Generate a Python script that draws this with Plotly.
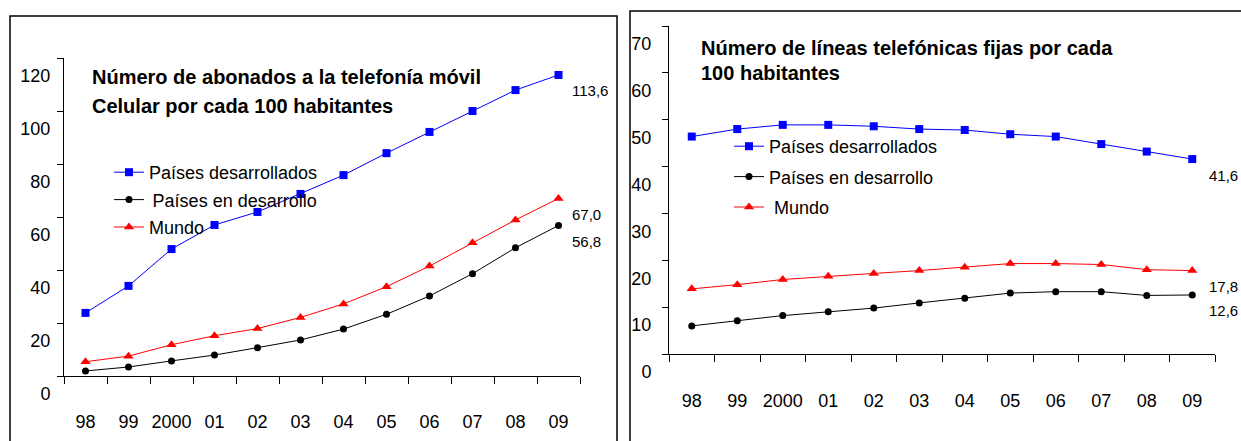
import plotly.graph_objects as go

# ---------------- data ----------------
years = ["98", "99", "2000", "01", "02", "03", "04", "05", "06", "07", "08", "09"]

series_names = ["Países desarrollados", "\u2009Países en desarrollo", "Mundo"]
series_names_right = ["Países desarrollados", "Países en desarrollo", "\u00a0Mundo"]

# Mobile cellular subscriptions per 100 inhabitants
mob_developed = [23.8, 34.0, 47.9, 57.0, 61.9, 68.7, 75.8, 84.1, 92.1, 100.0, 107.9, 113.6]
mob_developing = [1.9, 3.4, 5.7, 7.9, 10.7, 13.6, 17.7, 23.3, 30.2, 38.6, 48.4, 56.8]
mob_world = [5.4, 7.5, 11.8, 15.2, 17.9, 22.1, 27.2, 33.7, 41.5, 50.3, 58.9, 67.0]

# Fixed telephone lines per 100 inhabitants
fix_developed = [46.4, 48.0, 48.9, 48.9, 48.6, 48.0, 47.8, 46.9, 46.4, 44.8, 43.2, 41.6]
fix_developing = [6.0, 7.1, 8.2, 9.0, 9.8, 10.9, 11.9, 13.0, 13.3, 13.3, 12.5, 12.6]
fix_world = [13.9, 14.8, 15.9, 16.6, 17.2, 17.8, 18.5, 19.3, 19.3, 19.1, 18.0, 17.8]

left_yticks = [0, 20, 40, 60, 80, 100, 120]
right_yticks = [0, 10, 20, 30, 40, 50, 60, 70]

left_title = ["Número de abonados a la telefonía móvil", "Celular por cada 100 habitantes"]
right_title = ["Número de líneas telefónicas fijas por cada", "100 habitantes"]

# ---------------- layout helpers ----------------
W, H = 1241, 441
FONT = "Liberation Sans, Arial, sans-serif"


def fx(p):
    return p / W


def fy(p):
    return 1 - p / H


colors = ["#0000FF", "#000000", "#FF0000"]
symbols = ["square", "circle", "triangle-up"]
sizes = [8, 7, 9]

fig = go.Figure()

left_series = [mob_developed, mob_developing, mob_world]
right_series = [fix_developed, fix_developing, fix_world]

for i, vals in enumerate(left_series):
    fig.add_trace(go.Scatter(
        x=years, y=vals, name=series_names[i], mode="lines+markers",
        line=dict(color=colors[i], width=1),
        marker=dict(symbol=symbols[i], size=sizes[i], color=colors[i]),
        xaxis="x", yaxis="y", legend="legend", legendgroup=f"L{i}",
        hoverinfo="skip",
    ))

for i, vals in enumerate(right_series):
    fig.add_trace(go.Scatter(
        x=years, y=vals, name=series_names_right[i], mode="lines+markers",
        line=dict(color=colors[i], width=1),
        marker=dict(symbol=symbols[i], size=sizes[i], color=colors[i]),
        xaxis="x2", yaxis="y2", legend="legend2", legendgroup=f"R{i}",
        hoverinfo="skip",
    ))

xcommon = dict(
    type="category", categoryorder="array", categoryarray=years,
    range=[-0.5, len(years) - 0.5], tickson="boundaries",
    ticks="outside", ticklen=7, tickcolor="#000", tickwidth=1,
    showline=True, linecolor="#000", linewidth=1,
    showgrid=False, zeroline=False, fixedrange=True, automargin=False,
    tickangle=0,
    tickfont=dict(family=FONT, size=18, color="#000"),
)
ycommon = dict(
    ticks="outside", ticklen=6, tickcolor="#000", tickwidth=1,
    showline=True, linecolor="#000", linewidth=1,
    showgrid=False, zeroline=False, fixedrange=True, automargin=False,
    tickfont=dict(family=FONT, size=18, color="#000"),
    ticklabelshift=18,
)

fig.update_layout(
    width=W, height=H,
    margin=dict(l=0, r=0, t=0, b=0, autoexpand=False),
    paper_bgcolor="white", plot_bgcolor="white",
    font=dict(family=FONT, color="#000"),
    xaxis=dict(xcommon, domain=[fx(64), fx(580)], anchor="y",
               ticklabelstandoff=29),
    yaxis=dict(ycommon, domain=[fy(376), fy(58)], range=[0, 120],
               tickvals=left_yticks, anchor="x", ticklabelstandoff=3),
    xaxis2=dict(xcommon, domain=[fx(669), fx(1215)], anchor="y2",
                ticklabelstandoff=30),
    yaxis2=dict(ycommon, domain=[fy(354), fy(26)], range=[0, 70],
                tickvals=right_yticks, anchor="x2", ticklabelstandoff=7),
    legend=dict(x=fx(109), y=fy(154), xanchor="left", yanchor="top",
                bgcolor="rgba(0,0,0,0)", borderwidth=0,
                font=dict(family=FONT, size=18, color="#000"),
                traceorder="grouped", tracegroupgap=1, itemwidth=30),
    legend2=dict(x=fx(729), y=fy(128), xanchor="left", yanchor="top",
                 bgcolor="rgba(0,0,0,0)", borderwidth=0,
                 font=dict(family=FONT, size=18, color="#000"),
                 traceorder="grouped", tracegroupgap=4, itemwidth=30),
    showlegend=True,
)

# frames around each chart
fig.add_shape(type="rect", xref="paper", yref="paper",
              x0=fx(10), x1=fx(617), y0=-0.2, y1=fy(16),
              line=dict(color="#000", width=1.5), fillcolor="rgba(0,0,0,0)")
fig.add_shape(type="rect", xref="paper", yref="paper",
              x0=fx(630), x1=1.2, y0=-0.2, y1=fy(11),
              line=dict(color="#000", width=1.5), fillcolor="rgba(0,0,0,0)")

# titles
for line, ypix in zip(left_title, [77, 106]):
    fig.add_annotation(x=fx(90), y=fy(ypix), xref="paper", yref="paper",
                       xanchor="left", yanchor="middle", showarrow=False,
                       text=f"<b>{line}</b>",
                       font=dict(family=FONT, size=20, color="#000"))
for line, ypix in zip(right_title, [48, 73]):
    fig.add_annotation(x=fx(699), y=fy(ypix), xref="paper", yref="paper",
                       xanchor="left", yanchor="middle", showarrow=False,
                       text=f"<b>{line}</b>",
                       font=dict(family=FONT, size=20, color="#000"))


def fmt(v):
    return f"{v:.1f}".replace(".", ",")


last = len(years) - 1  # category index of the final year

# end value labels
for vals in left_series:
    fig.add_annotation(x=last, y=vals[-1], xref="x", yref="y",
                       xanchor="left", yanchor="middle", showarrow=False,
                       xshift=11, yshift=-16, text=fmt(vals[-1]),
                       font=dict(family=FONT, size=15, color="#000"))
for vals in right_series:
    fig.add_annotation(x=last, y=vals[-1], xref="x2", yref="y2",
                       xanchor="left", yanchor="middle", showarrow=False,
                       xshift=15, yshift=-16, text=fmt(vals[-1]),
                       font=dict(family=FONT, size=15, color="#000"))

fig.write_html("out.html", config={"displayModeBar": False},
               post_script="document.body.style.margin='0';")
